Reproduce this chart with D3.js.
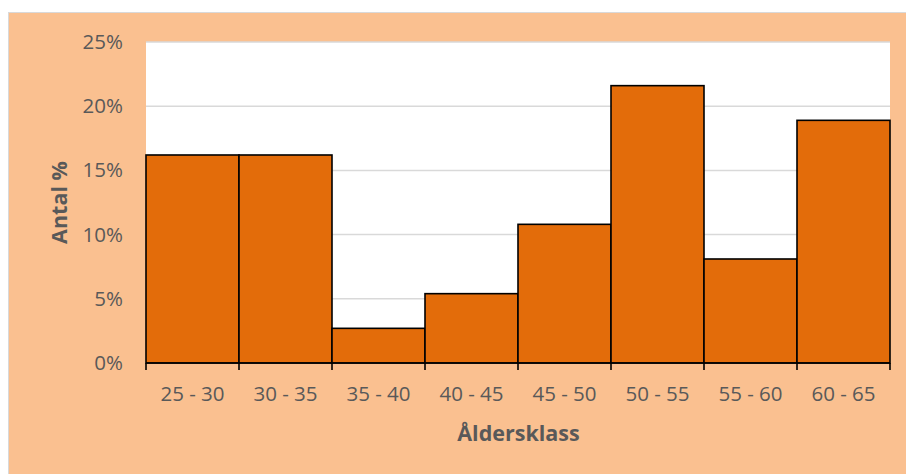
<!DOCTYPE html>
<html><head><meta charset="utf-8">
<script src="https://cdn.jsdelivr.net/npm/d3@7"></script>
<style>body{margin:0;background:#fff;}svg{display:block;font-family:"Open Sans",sans-serif;}</style>
</head><body><svg id="c" width="906" height="474"></svg>
<script>
const categories = ["25 - 30","30 - 35","35 - 40","40 - 45","45 - 50","50 - 55","55 - 60","60 - 65"];
const values = [16.2,16.2,2.7,5.4,10.8,21.6,8.1,18.9];
const yTicks = [0,5,10,15,20,25];
const xTitle = "Åldersklass";
const yTitle = "Antal %";

const svg = d3.select("#c");
svg.append("rect").attr("x",8.5).attr("y",12.5).attr("width",906).attr("height",470)
  .attr("fill","#FAC090").attr("stroke","#D9D9D9").attr("stroke-width",1);

const L=146,R=890,T=42,B=363;
const x = d3.scaleBand().domain(categories).range([L,R]).padding(0);
const y = d3.scaleLinear().domain([0,25]).range([B,T]);

svg.append("rect").attr("x",L).attr("y",T).attr("width",R-L).attr("height",B-T).attr("fill","#fff");

svg.append("g").selectAll("line").data(yTicks).join("line")
  .attr("x1",L).attr("x2",R).attr("y1",d=>y(d)).attr("y2",d=>y(d))
  .attr("stroke","#D9D9D9").attr("stroke-width",1.5);

svg.append("g").selectAll("rect").data(values).join("rect")
  .attr("x",(d,i)=>x(categories[i])).attr("width",x.bandwidth())
  .attr("y",d=>y(d)).attr("height",d=>B-y(d))
  .attr("fill","#E36C0A").attr("stroke","#000").attr("stroke-width",1.6);

// x axis
const xa = svg.append("g").attr("transform",`translate(0,${B})`);
xa.append("line").attr("x1",L).attr("x2",R).attr("stroke","#000").attr("stroke-width",1.6);
const edges = categories.map(c=>x(c)).concat([R]);
xa.selectAll("line.t").data(edges).join("line").attr("class","t")
  .attr("x1",d=>d).attr("x2",d=>d).attr("y1",0).attr("y2",7).attr("stroke","#000").attr("stroke-width",1.6);
xa.selectAll("text").data(categories).join("text")
  .attr("x",d=>x(d)+x.bandwidth()/2).attr("y",38).attr("text-anchor","middle")
  .attr("fill","#595959").attr("font-size",20.5).text(d=>d);

// y axis labels
svg.append("g").selectAll("text").data(yTicks).join("text")
  .attr("x",123).attr("y",d=>y(d)+7).attr("text-anchor","end")
  .attr("fill","#595959").attr("font-size",20.5).text(d=>d+"%");

svg.append("text").attr("x",(L+R)/2+0.5).attr("y",441).attr("text-anchor","middle")
  .attr("fill","#595959").attr("font-size",21.5).attr("font-weight","bold").text(xTitle);
svg.append("text").attr("transform",`translate(67,${(T+B)/2}) rotate(-90)`).attr("text-anchor","middle")
  .attr("fill","#595959").attr("font-size",21.5).attr("font-weight","bold").text(yTitle);
</script></body></html>
